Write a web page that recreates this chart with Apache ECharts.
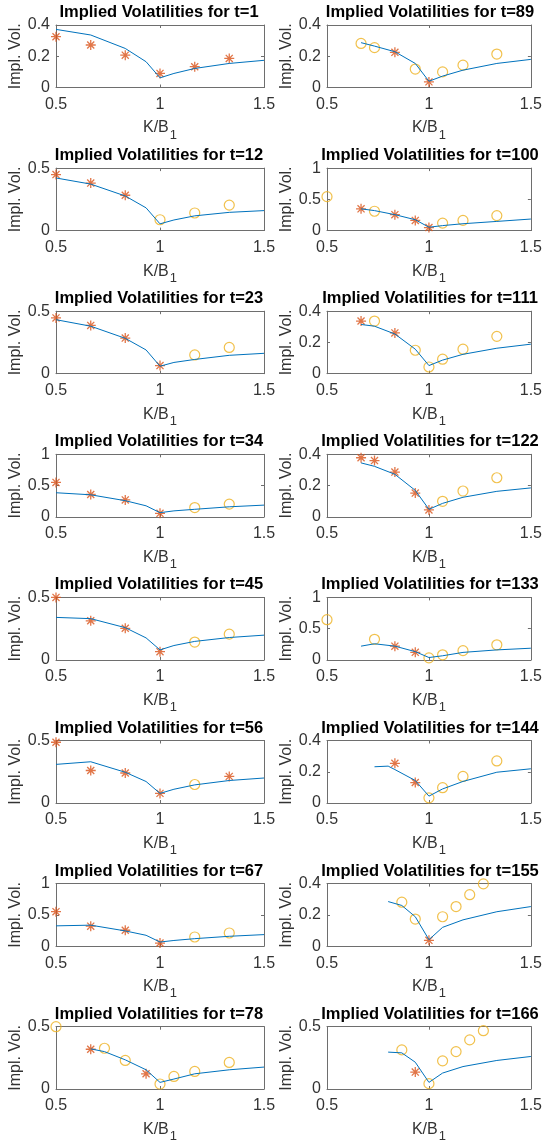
<!DOCTYPE html>
<html><head><meta charset="utf-8">
<script src="https://cdn.jsdelivr.net/npm/echarts@6/dist/echarts.min.js"></script>
<style>html,body{margin:0;padding:0;background:#fff}#c{width:545px;height:1144px}</style>
</head><body><div id="c"></div>
<script>
// ---- data ----
const T_VALUES = [1, 12, 23, 34, 45, 56, 67, 78, 89, 100, 111, 122, 133, 144, 155, 166];
const Y_MAX = [0.4, 0.5, 0.5, 1, 0.5, 0.5, 1, 0.5, 0.4, 1, 0.4, 0.4, 1, 0.4, 0.4, 0.5];
const Y_INTERVAL = [0.2, 0.5, 0.5, 0.5, 0.5, 0.5, 0.5, 0.5, 0.2, 0.5, 0.2, 0.2, 0.5, 0.2, 0.2, 0.5];
const X_MIN = 0.5, X_MAX = 1.5, X_INTERVAL = 0.5;
const TITLE_PREFIX = 'Implied Volatilities for t=';
const X_NAME = 'K/B', X_NAME_SUB = '1';
const Y_NAME = 'Impl. Vol.';

const line_t1 = [[0.5,0.372],[0.667,0.336],[0.833,0.25],[0.933,0.165],[1,0.062],[1.067,0.09],[1.167,0.122],[1.333,0.154],[1.5,0.174]];
const star_t1 = [[0.5,0.325],[0.667,0.272],[0.833,0.207],[1,0.09],[1.167,0.133],[1.333,0.186]];
const circ_t1 = [];

const line_t12 = [[0.5,0.421],[0.667,0.372],[0.833,0.277],[0.933,0.182],[1,0.054],[1.067,0.085],[1.167,0.118],[1.333,0.146],[1.5,0.16]];
const star_t12 = [[0.5,0.448],[0.667,0.38],[0.833,0.283]];
const circ_t12 = [[1,0.087],[1.167,0.141],[1.333,0.204]];

const line_t23 = [[0.5,0.432],[0.667,0.38],[0.833,0.283],[0.933,0.19],[1,0.06],[1.067,0.09],[1.167,0.114],[1.333,0.147],[1.5,0.163]];
const star_t23 = [[0.5,0.446],[0.667,0.386],[0.833,0.285],[1,0.065]];
const circ_t23 = [[1.167,0.15],[1.333,0.21]];

const line_t34 = [[0.5,0.385],[0.667,0.352],[0.833,0.258],[0.933,0.176],[1,0.066],[1.067,0.095],[1.167,0.12],[1.333,0.16],[1.5,0.187]];
const star_t34 = [[0.5,0.55],[0.667,0.357],[0.833,0.27],[1,0.055]];
const circ_t34 = [[1.167,0.148],[1.333,0.203]];

const line_t45 = [[0.5,0.34],[0.667,0.33],[0.833,0.258],[0.933,0.176],[1,0.08],[1.067,0.115],[1.167,0.148],[1.333,0.179],[1.5,0.198]];
const star_t45 = [[0.5,0.5],[0.667,0.313],[0.833,0.253],[1,0.066]];
const circ_t45 = [[1.167,0.143],[1.333,0.206]];

const line_t56 = [[0.5,0.309],[0.667,0.33],[0.833,0.246],[0.933,0.172],[1,0.077],[1.067,0.11],[1.167,0.145],[1.333,0.18],[1.5,0.2]];
const star_t56 = [[0.5,0.486],[0.667,0.26],[0.833,0.24],[1,0.077],[1.333,0.213]];
const circ_t56 = [[1.167,0.148]];

const line_t67 = [[0.5,0.324],[0.667,0.335],[0.833,0.243],[0.933,0.173],[1,0.065],[1.067,0.09],[1.167,0.119],[1.333,0.157],[1.5,0.184]];
const star_t67 = [[0.5,0.551],[0.667,0.319],[0.833,0.254],[1,0.049]];
const circ_t67 = [[1.167,0.146],[1.333,0.21]];

const line_t78 = [[0.667,0.322],[0.733,0.3],[0.833,0.234],[0.933,0.154],[1,0.053],[1.067,0.08],[1.167,0.122],[1.333,0.154],[1.5,0.176]];
const star_t78 = [[0.667,0.319],[0.933,0.122]];
const circ_t78 = [[0.5,0.5],[0.733,0.327],[0.833,0.229],[1,0.04],[1.067,0.101],[1.167,0.141],[1.333,0.213]];

const line_t89 = [[0.667,0.287],[0.733,0.265],[0.833,0.229],[0.933,0.154],[1,0.04],[1.067,0.073],[1.167,0.111],[1.333,0.154],[1.5,0.18]];
const star_t89 = [[0.833,0.225],[1,0.036]];
const circ_t89 = [[0.667,0.282],[0.733,0.255],[0.933,0.118],[1.067,0.1],[1.167,0.143],[1.333,0.214]];

const line_t100 = [[0.667,0.348],[0.733,0.32],[0.833,0.255],[0.933,0.174],[1,0.054],[1.067,0.08],[1.167,0.11],[1.333,0.147],[1.5,0.185]];
const star_t100 = [[0.667,0.348],[0.833,0.255],[0.933,0.163],[1,0.049]];
const circ_t100 = [[0.5,0.543],[0.733,0.31],[1.067,0.12],[1.167,0.163],[1.333,0.24]];

const line_t111 = [[0.667,0.315],[0.733,0.304],[0.833,0.254],[0.933,0.157],[1,0.052],[1.067,0.087],[1.167,0.124],[1.333,0.163],[1.5,0.189]];
const star_t111 = [[0.667,0.337],[0.833,0.261]];
const circ_t111 = [[0.733,0.337],[0.933,0.15],[1,0.043],[1.067,0.093],[1.167,0.157],[1.333,0.239]];

const line_t122 = [[0.667,0.345],[0.733,0.323],[0.833,0.272],[0.933,0.169],[1,0.048],[1.067,0.086],[1.167,0.125],[1.333,0.163],[1.5,0.185]];
const star_t122 = [[0.667,0.378],[0.733,0.36],[0.833,0.286],[0.933,0.152],[1,0.044]];
const circ_t122 = [[1.067,0.099],[1.167,0.165],[1.333,0.25]];

const line_t133 = [[0.667,0.22],[0.733,0.258],[0.833,0.22],[0.933,0.132],[1,0.038],[1.067,0.066],[1.167,0.12],[1.333,0.16],[1.5,0.187]];
const star_t133 = [[0.833,0.22],[0.933,0.121]];
const circ_t133 = [[0.5,0.643],[0.733,0.33],[1,0.033],[1.067,0.082],[1.167,0.148],[1.333,0.242]];

const line_t144 = [[0.733,0.232],[0.8,0.236],[0.833,0.214],[0.933,0.144],[1,0.044],[1.067,0.09],[1.167,0.138],[1.333,0.197],[1.5,0.219]];
const star_t144 = [[0.833,0.254],[0.933,0.131]];
const circ_t144 = [[1,0.033],[1.067,0.098],[1.167,0.17],[1.333,0.269]];

const line_t155 = [[0.8,0.285],[0.867,0.26],[0.933,0.188],[1,0.041],[1.067,0.12],[1.167,0.168],[1.333,0.22],[1.5,0.253]];
const star_t155 = [[1,0.037]];
const circ_t155 = [[0.867,0.281],[0.933,0.173],[1.067,0.188],[1.133,0.253],[1.2,0.329],[1.267,0.398]];

const line_t166 = [[0.8,0.296],[0.867,0.29],[0.933,0.215],[1,0.053],[1.067,0.128],[1.167,0.18],[1.333,0.229],[1.5,0.261]];
const star_t166 = [[0.933,0.136]];
const circ_t166 = [[0.867,0.314],[1,0.043],[1.067,0.226],[1.133,0.3],[1.2,0.394],[1.267,0.468]];

const LINES = [line_t1,line_t12,line_t23,line_t34,line_t45,line_t56,line_t67,line_t78,line_t89,line_t100,line_t111,line_t122,line_t133,line_t144,line_t155,line_t166];
const STARS = [star_t1,star_t12,star_t23,star_t34,star_t45,star_t56,star_t67,star_t78,star_t89,star_t100,star_t111,star_t122,star_t133,star_t144,star_t155,star_t166];
const CIRCS = [circ_t1,circ_t12,circ_t23,circ_t34,circ_t45,circ_t56,circ_t67,circ_t78,circ_t89,circ_t100,circ_t111,circ_t122,circ_t133,circ_t144,circ_t155,circ_t166];

// ---- layout / style ----
const FONT = '"Liberation Sans", Arial, Helvetica, sans-serif';
const COL_LEFT = [56, 327];
const PLOT_W = 208, PLOT_H = 62.5, ROW_TOP0 = 25, ROW_STEP = 143.1;
const AXIS_COLOR = '#6e6e6e', LABEL_COLOR = '#333333';
const LINE_COLOR = '#0072BD', STAR_COLOR = '#D95319', CIRC_COLOR = '#EDB120';
const STAR_PATH = 'path://M0,-10L0,10M-10,0L10,0M-7.07,-7.07L7.07,7.07M-7.07,7.07L7.07,-7.07';

const grids = [], xAxes = [], yAxes = [], series = [], titles = [];
for (let i = 0; i < 16; i++) {
  const col = i < 8 ? 0 : 1, row = i % 8;
  const left = COL_LEFT[col], top = ROW_TOP0 + ROW_STEP * row;
  grids.push({left: left, top: top, width: PLOT_W, height: PLOT_H, containLabel: false});
  titles.push({
    text: TITLE_PREFIX + T_VALUES[i], left: left + PLOT_W / 2 - 1, top: top - 21, textAlign: 'center', padding: 0,
    textStyle: {fontSize: 16.5, fontWeight: 'bold', color: '#000', fontFamily: FONT}
  });
  const tickStyle = {show: true, inside: true, length: 3, lineStyle: {color: AXIS_COLOR, width: 1}};
  const lineStyle = {show: true, onZero: false, lineStyle: {color: AXIS_COLOR, width: 1}};
  xAxes.push({
    gridIndex: i, type: 'value', position: 'bottom', min: X_MIN, max: X_MAX, interval: X_INTERVAL,
    axisLine: lineStyle, axisTick: tickStyle, splitLine: {show: false},
    axisLabel: {color: LABEL_COLOR, fontSize: 16, margin: 9, fontFamily: FONT},
    name: '{a|' + X_NAME + '}{s|' + X_NAME_SUB + '}', nameLocation: 'middle', nameGap: 27,
    nameTextStyle: {color: LABEL_COLOR, fontFamily: FONT, rich: {
      a: {fontSize: 16, color: LABEL_COLOR, fontFamily: FONT},
      s: {fontSize: 13, color: LABEL_COLOR, fontFamily: FONT, padding: [14, 0, 0, 1]}
    }}
  });
  xAxes.push({
    gridIndex: i, type: 'value', position: 'top', min: X_MIN, max: X_MAX, interval: X_INTERVAL,
    axisLine: lineStyle, axisTick: tickStyle, splitLine: {show: false}, axisLabel: {show: false}
  });
  yAxes.push({
    gridIndex: i, type: 'value', position: 'left', min: 0, max: Y_MAX[i], interval: Y_INTERVAL[i],
    axisLine: lineStyle, axisTick: tickStyle, splitLine: {show: false},
    axisLabel: {color: LABEL_COLOR, fontSize: 16, margin: 6, fontFamily: FONT},
    name: Y_NAME, nameLocation: 'middle', nameGap: 30,
    nameTextStyle: {color: LABEL_COLOR, fontSize: 16, fontFamily: FONT}
  });
  yAxes.push({
    gridIndex: i, type: 'value', position: 'right', min: 0, max: Y_MAX[i], interval: Y_INTERVAL[i],
    axisLine: lineStyle, axisTick: tickStyle, splitLine: {show: false}, axisLabel: {show: false}
  });
  series.push({
    type: 'line', xAxisIndex: 2 * i, yAxisIndex: 2 * i, data: LINES[i], symbol: 'none',
    lineStyle: {color: LINE_COLOR, width: 1}, silent: true, clip: false
  });
  series.push({
    type: 'scatter', xAxisIndex: 2 * i, yAxisIndex: 2 * i, data: STARS[i], symbol: STAR_PATH, symbolSize: 10,
    itemStyle: {color: STAR_COLOR, borderColor: STAR_COLOR, borderWidth: 1.3}, silent: true, clip: false
  });
  series.push({
    type: 'scatter', xAxisIndex: 2 * i, yAxisIndex: 2 * i, data: CIRCS[i], symbol: 'circle', symbolSize: 10,
    itemStyle: {color: 'rgba(0,0,0,0)', borderColor: CIRC_COLOR, borderWidth: 1.2}, silent: true, clip: false
  });
}

const chart = echarts.init(document.getElementById('c'), null, {renderer: 'canvas'});
chart.setOption({
  animation: false, backgroundColor: '#fff',
  textStyle: {fontFamily: FONT},
  title: titles, grid: grids, xAxis: xAxes, yAxis: yAxes, series: series
});
</script></body></html>
